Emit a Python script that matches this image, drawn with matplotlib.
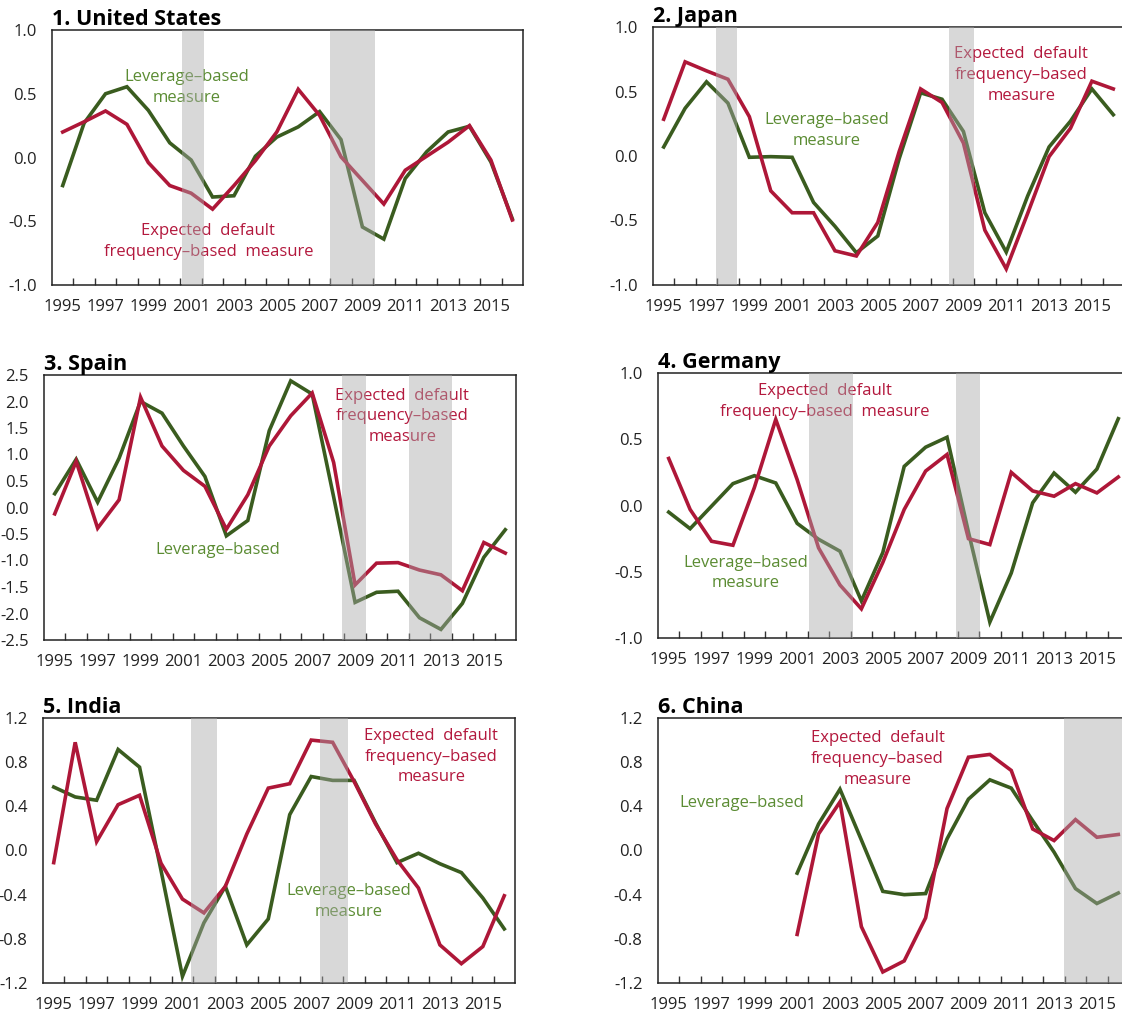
import numpy as np
import matplotlib.pyplot as plt

plt.rcParams['font.family'] = ['Open Sans', 'DejaVu Sans']

years = np.arange(1995, 2017)
nan = np.nan

# leverage-based measure (green) and expected default frequency-based measure (red)
us_lev = [-0.22, 0.27, 0.50, 0.555, 0.37, 0.115, -0.02, -0.31, -0.30, 0.01, 0.16,
          0.24, 0.36, 0.14, -0.545, -0.64, -0.165, 0.045, 0.20, 0.245, -0.035, -0.48]
us_edf = [0.20, 0.28, 0.365, 0.26, -0.04, -0.22, -0.28, -0.405, -0.22, -0.025, 0.20,
          0.535, 0.33, 0.005, -0.18, -0.365, -0.10, 0.01, 0.12, 0.25, -0.02, -0.49]

jp_lev = [0.07, 0.37, 0.575, 0.41, -0.01, -0.005, -0.01, -0.36, -0.545, -0.75, -0.62,
          -0.02, 0.49, 0.44, 0.19, -0.44, -0.745, -0.31, 0.07, 0.27, 0.52, 0.32]
jp_edf = [0.285, 0.73, 0.66, 0.595, 0.305, -0.27, -0.44, -0.44, -0.735, -0.775, -0.515,
          0.035, 0.52, 0.415, 0.10, -0.575, -0.875, -0.445, -0.005, 0.215, 0.58, 0.52]

es_lev = [0.26, 0.91, 0.10, 0.93, 2.0, 1.78, 1.16, 0.585, -0.535, -0.245, 1.45,
          2.39, 2.14, 0.2, -1.79, -1.60, -1.58, -2.08, -2.30, -1.81, -0.94, -0.42]
es_edf = [-0.12, 0.87, -0.39, 0.145, 2.08, 1.16, 0.70, 0.40, -0.41, 0.24, 1.16,
          1.73, 2.16, 0.85, -1.46, -1.05, -1.04, -1.18, -1.27, -1.57, -0.66, -0.86]

de_lev = [-0.05, -0.175, -0.005, 0.165, 0.225, 0.17, -0.135, -0.255, -0.345, -0.72, -0.355,
          0.295, 0.44, 0.515, -0.2, -0.88, -0.51, 0.02, 0.245, 0.10, 0.275, 0.655]
de_edf = [0.355, -0.03, -0.27, -0.30, 0.135, 0.65, 0.195, -0.32, -0.60, -0.78, -0.43,
          -0.03, 0.26, 0.385, -0.25, -0.295, 0.25, 0.11, 0.07, 0.165, 0.095, 0.215]

in_lev = [0.575, 0.485, 0.455, 0.915, 0.755, -0.18, -1.14, -0.655, -0.325, -0.855, -0.62,
          0.325, 0.67, 0.635, 0.635, 0.25, -0.11, -0.025, -0.12, -0.20, -0.43, -0.71]
in_edf = [-0.11, 0.98, 0.08, 0.415, 0.50, -0.115, -0.44, -0.565, -0.325, 0.15, 0.565,
          0.605, 1.0, 0.98, 0.625, 0.24, -0.085, -0.34, -0.855, -1.025, -0.87, -0.41]

cn_lev = [nan, nan, nan, nan, nan, nan, -0.205, 0.24, 0.555, 0.095, -0.37,
          -0.40, -0.39, 0.105, 0.465, 0.64, 0.565, 0.27, -0.015, -0.345, -0.48, -0.385]
cn_edf = [nan, nan, nan, nan, nan, nan, -0.76, 0.15, 0.44, -0.69, -1.10,
          -1.0, -0.61, 0.38, 0.845, 0.87, 0.725, 0.195, 0.09, 0.28, 0.12, 0.145]

# recession / crisis shading (start, end)
us_shade = [(2000.58, 2001.58), (2007.48, 2009.57)]
jp_shade = [(1997.42, 1998.43), (2008.32, 2009.5)]
es_shade = [(2008.38, 2009.53), (2011.5, 2013.5)]
de_shade = [(2001.53, 2003.62), (2008.42, 2009.55)]
in_shade = [(2001.42, 2002.62), (2007.43, 2008.72)]
cn_shade = [(2013.45, 2017.5)]

titles = ['1. United States', '2. Japan', '3. Spain', '4. Germany', '5. India', '6. China']

GREEN = '#3a5c1f'
RED = '#ae1738'
GREEN_TXT = '#5b8c33'
RED_TXT = '#b3183d'

W, H = 1122, 1019
fig = plt.figure(figsize=(W / 100, H / 100), dpi=100)

def box(l, r, t, b):
    return [l / W, 1 - b / H, (r - l) / W, (b - t) / H]

panels = [
    dict(pos=box(52, 523, 30, 285), lev=us_lev, edf=us_edf, shade=us_shade,
         ylim=(-1, 1), yt=np.arange(-1, 1.01, 0.5), fmt='%.1f',
         lev_txt=(2000.8, 0.55, 'Leverage\u2013based\nmeasure'),
         edf_txt=(2001.8, -0.66, 'Expected  default\nfrequency\u2013based  measure')),
    dict(pos=box(653, 1124, 27, 285), lev=jp_lev, edf=jp_edf, shade=jp_shade,
         ylim=(-1, 1), yt=np.arange(-1, 1.01, 0.5), fmt='%.1f',
         lev_txt=(2002.6, 0.20, 'Leverage\u2013based\nmeasure'),
         edf_txt=(2011.7, 0.63, 'Expected  default\nfrequency\u2013based\nmeasure')),
    dict(pos=box(44, 516, 375, 640), lev=es_lev, edf=es_edf, shade=es_shade,
         ylim=(-2.5, 2.5), yt=np.arange(-2.5, 2.51, 0.5), fmt='%.1f',
         lev_txt=(2002.6, -0.81, 'Leverage\u2013based'),
         edf_txt=(2011.2, 1.72, 'Expected  default\nfrequency\u2013based\nmeasure')),
    dict(pos=box(658, 1129, 373, 638), lev=de_lev, edf=de_edf, shade=de_shade,
         ylim=(-1, 1), yt=np.arange(-1, 1.01, 0.5), fmt='%.1f',
         lev_txt=(1998.6, -0.51, 'Leverage\u2013based\nmeasure'),
         edf_txt=(2002.3, 0.785, 'Expected  default\nfrequency\u2013based  measure')),
    dict(pos=box(43, 515, 718, 983), lev=in_lev, edf=in_edf, shade=in_shade,
         ylim=(-1.2, 1.2), yt=np.arange(-1.2, 1.21, 0.4), fmt='%.1f',
         lev_txt=(2008.75, -0.465, 'Leverage\u2013based\nmeasure'),
         edf_txt=(2012.6, 0.85, 'Expected  default\nfrequency\u2013based\nmeasure')),
    dict(pos=box(658, 1129, 718, 983), lev=cn_lev, edf=cn_edf, shade=cn_shade,
         ylim=(-1.2, 1.2), yt=np.arange(-1.2, 1.21, 0.4), fmt='%.1f',
         lev_txt=(1998.4, 0.43, 'Leverage\u2013based'),
         edf_txt=(2004.75, 0.83, 'Expected  default\nfrequency\u2013based\nmeasure')),
]

for title, p in zip(titles, panels):
    ax = fig.add_axes(p['pos'])
    ax.plot(years, p['lev'], color=GREEN, lw=2.6, zorder=2, solid_joinstyle='miter')
    ax.plot(years, p['edf'], color=RED, lw=2.6, zorder=2.1, solid_joinstyle='miter')
    for a, b in p['shade']:
        ax.axvspan(a, b, color='#a9a9a9', alpha=0.45, lw=0, zorder=4)
    x, y, s = p['lev_txt']
    ax.text(x, y, s, color=GREEN_TXT, fontsize=12, ha='center', va='center',
            linespacing=1.4, zorder=3)
    x, y, s = p['edf_txt']
    ax.text(x, y, s, color=RED_TXT, fontsize=12, ha='center', va='center',
            linespacing=1.4, zorder=3)

    ax.set_xlim(1994.5, 2016.5)
    ax.set_ylim(*p['ylim'])
    ax.set_yticks(p['yt'])
    ax.set_yticklabels([p['fmt'] % v for v in p['yt']])
    ax.tick_params(axis='y', length=0, pad=11, labelsize=12, colors='#222222')

    ax.set_xticks(np.arange(1995.5, 2016, 1))
    ax.set_xticklabels([])
    ax.set_xticks(np.arange(1995, 2016, 2), minor=True)
    ax.set_xticklabels([str(v) for v in range(1995, 2016, 2)], minor=True)
    ax.tick_params(axis='x', which='major', direction='in', length=5, width=1, color='#333333')
    ax.tick_params(axis='x', which='minor', length=0, pad=10, labelsize=12, colors='#222222')
    for sp in ax.spines.values():
        sp.set_color('#222222')
        sp.set_linewidth(1.1)
    ax.set_title(title, loc='left', fontsize=15.5, fontweight='bold', pad=1)

fig.savefig('out.png', dpi=100)
